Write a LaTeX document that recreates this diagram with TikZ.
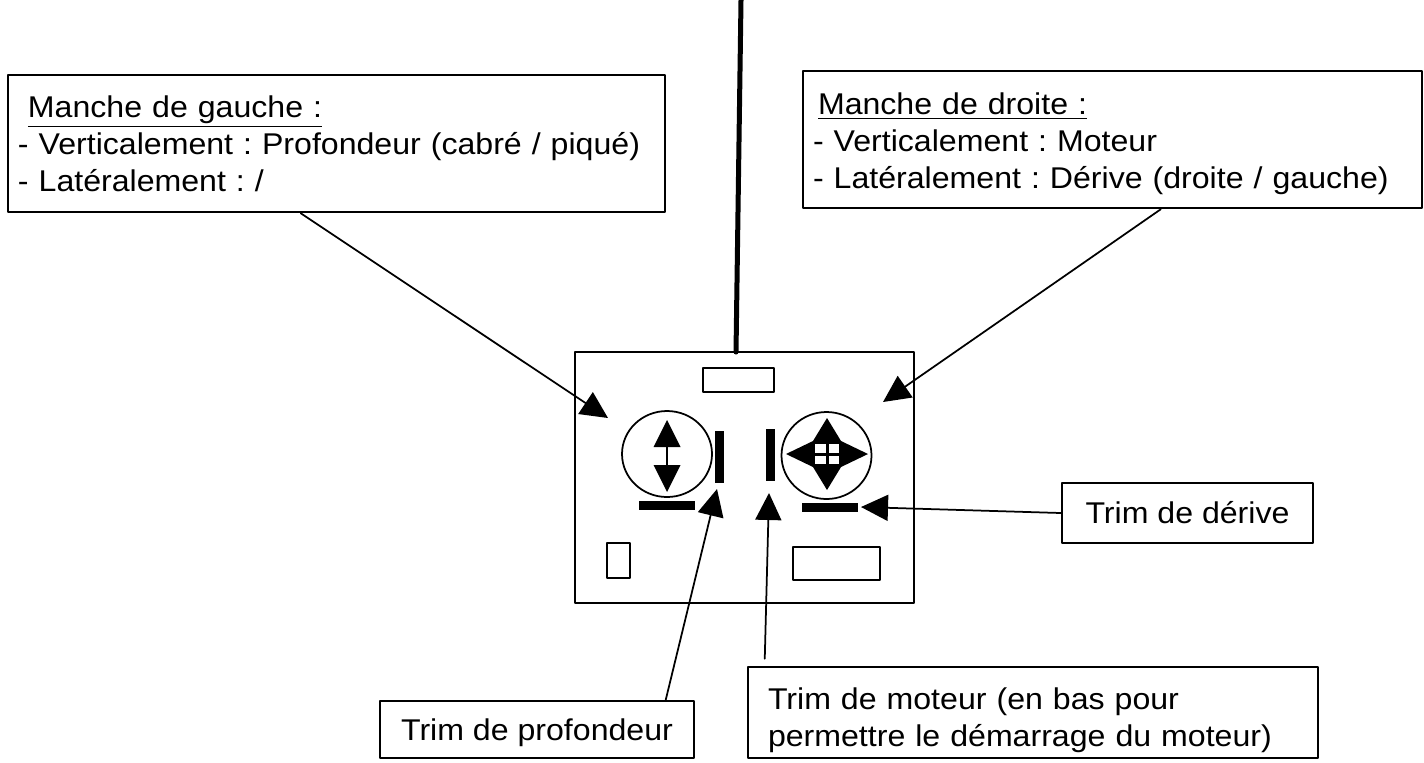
\documentclass[tikz,border=0pt]{standalone}
\usepackage{fontspec}
\setmainfont{Liberation Sans}[FakeStretch=1.07]
\usetikzlibrary{arrows.meta,calc}
\frenchspacing

\begin{document}
\begin{tikzpicture}[line cap=round,line join=round,>={Triangle[length=10.8pt,width=10.4pt]},x=0.4pt,y=-0.4pt,
	boite/.style={draw,line width=1pt,align=left,font=\fontsize{12pt}{14.8pt}\selectfont},
	fleche/.style={->,line width=0.7pt},
	petit/.style={draw,line width=0.8pt}]
	\useasboundingbox (0,0) rectangle (1424,762);
	% antenne et boitier
	\draw [line width=2pt] (741,0)-- (736,352);
	\draw [line width=1.1pt] (575,352) rectangle (914,603);
	\draw [petit] (703,368) rectangle (774,392);
	\draw [petit] (607,543) rectangle (630,578);
	\draw [petit] (793,547) rectangle (880,580);
	% manche de gauche
	\draw [line width=0.7pt] (667,454) ellipse (45 and 43);
	\fill (667,420) -- (653.5,447) -- (680.5,447) -- cycle;
	\fill (667,492) -- (653.5,465) -- (680.5,465) -- cycle;
	\draw [line width=0.6pt] (667,446)-- (667,466);
	% manche de droite
	\draw [line width=0.7pt] (826.5,455.5) ellipse (45 and 43.5);
	\fill (786,454) -- (813,441) -- (827,418) -- (841,441) -- (868,454) -- (841,467) -- (827,490) -- (813,467) -- cycle;
	\fill [white] (815,444) rectangle (825.5,452.5);
	\fill [white] (828.5,444) rectangle (839,452.5);
	\fill [white] (815,455.5) rectangle (825.5,464);
	\fill [white] (828.5,455.5) rectangle (839,464);
	% trims
	\fill (715,431) rectangle (724,483);
	\fill (639,501) rectangle (695,510);
	\fill (766,429) rectangle (775,481);
	\fill (802,503) rectangle (858,512);
	% pointes des fleches
	\coordinate (mg) at (608,418);
	\coordinate (md) at (883,402);
	\coordinate (td) at (861,507);
	\coordinate (tp) at (717,489);
	\coordinate (tm) at (769,493);
	% etiquettes
	\node [boite,text width=254.8pt,minimum height=54.8pt,inner xsep=4pt] (gauche) at (336.5,143.5) {\hspace*{4pt}\underline{Manche de gauche :}\\- Verticalement : Profondeur (cabré / piqué)\\- Latéralement : /};
	\node [boite,text width=239.6pt,minimum height=54.8pt,inner xsep=4pt,text depth=28.4pt] (droite) at (1112.5,139.5) {\hspace*{2pt}\underline{Manche de droite :}\\- Verticalement : Moteur\\- Latéralement : Dérive (droite / gauche)};
	\node [boite,minimum width=100.4pt,minimum height=24pt] (derive) at (1187.5,513) {Trim de dérive};
	\node [boite,minimum width=125.6pt,minimum height=22.8pt,text depth=0pt] (profondeur) at (537,729.5) {Trim de profondeur};
	\node [boite,text width=212pt,minimum height=36.4pt,inner xsep=8pt,text depth=10.8pt] (moteur) at (1033,712.5) {Trim de moteur (en bas pour\\permettre le démarrage du moteur)};
	% fleches
	\draw [fleche] ($(gauche.south west)+(294,0)$)-- (mg);
	\draw [fleche] ($(droite.south west)+(359,0)$)-- (md);
	\draw [fleche] (derive.west)-- (td);
	\draw [fleche] ($(profondeur.north west)+(287,0)$)-- (tp);
	\draw [fleche] ($(moteur.north west)+(18,-7)$)-- (tm);
\end{tikzpicture}
\end{document}
